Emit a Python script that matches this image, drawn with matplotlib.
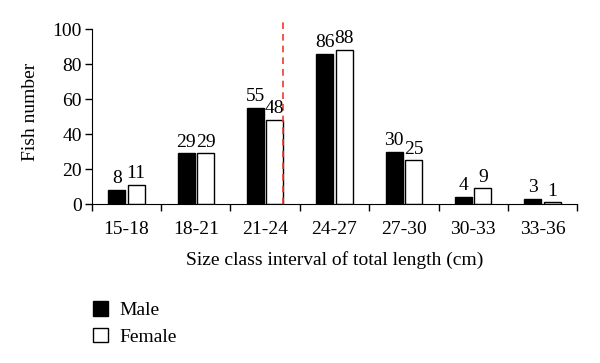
import matplotlib.pyplot as plt
import numpy as np
from matplotlib.patches import Patch

plt.rcParams['font.family'] = ['Liberation Serif', 'DejaVu Serif']

categories = ['15-18', '18-21', '21-24', '24-27', '27-30', '30-33', '33-36']
male = [8, 29, 55, 86, 30, 4, 3]
female = [11, 29, 48, 88, 25, 9, 1]

fig = plt.figure(figsize=(6, 3.63), dpi=100)
ax = fig.add_axes([0.153, 0.438, 0.809, 0.506])

x = np.arange(len(categories))
w = 0.245
off = 0.14
ax.bar(x - off, male, w, color='black', edgecolor='black', linewidth=1)
ax.bar(x + off, female, w, color='white', edgecolor='black', linewidth=1)

for xi, m, f in zip(x, male, female):
    ax.text(xi - off, m + 1.5, str(m), ha='center', va='bottom', fontsize=14)
    ax.text(xi + off, f + 1.5, str(f), ha='center', va='bottom', fontsize=14)

# dashed separator at right edge of female bar in 21-24
ax.axvline(2 + off + w / 2, color='#ee3b2b', linestyle=(0, (4, 3)), linewidth=1.2)

ax.set_xlim(-0.5, len(categories) - 0.5)
ax.set_ylim(0, 105)
ax.set_yticks(range(0, 101, 20))
ax.spines['left'].set_bounds(0, 100)
ax.spines['top'].set_visible(False)
ax.spines['right'].set_visible(False)

ax.set_xticks(np.arange(-0.5, len(categories), 1))
ax.set_xticklabels([])
ax.set_xticks(x, minor=True)
ax.set_xticklabels(categories, minor=True, fontsize=14)
ax.tick_params(axis='x', which='minor', length=0, pad=12)
ax.tick_params(axis='x', which='major', length=5, width=1)
ax.tick_params(axis='y', length=5, width=1, labelsize=14, pad=2)

ax.set_xlabel('Size class interval of total length (cm)', fontsize=14, labelpad=10)
ax.set_ylabel('Fish number', fontsize=14, labelpad=10)

handles = [Patch(facecolor='black', edgecolor='black', label='Male'),
           Patch(facecolor='white', edgecolor='black', label='Female')]
fig.legend(handles=handles, loc='upper left', bbox_to_anchor=(0.125, 0.22),
           frameon=False, fontsize=14, handlelength=0.8, handleheight=0.8,
           handletextpad=0.6, labelspacing=0.45)

fig.savefig('out.png', dpi=100)
